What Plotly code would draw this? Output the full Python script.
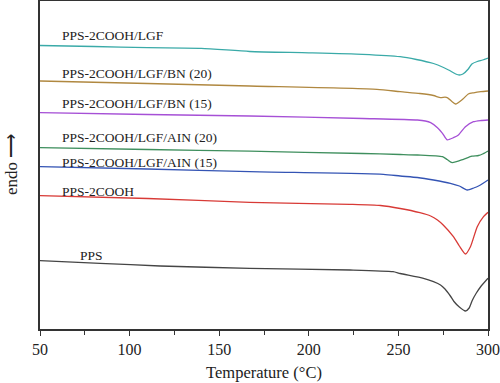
import plotly.graph_objects as go

# Temperature (°C) and heat flow (arbitrary units, endo up)
T_lgf = [50, 80, 110, 140, 167, 200, 230, 251, 260, 269.6, 272, 278, 282, 284, 286, 289, 291, 294, 297, 300]
H_lgf = [-45.5, -46.5, -47.7, -48.3, -51.5, -52.8, -54.3, -56.7, -59.5, -63.5, -65, -70, -74, -75, -74, -69, -64, -61.5, -60, -58]

T_bn20 = [50, 110, 167, 238, 251, 262, 269.6, 273.5, 276, 277.5, 281.8, 286.3, 289, 292, 296, 300]
H_bn20 = [-81, -83.5, -86, -89.3, -91.7, -93.5, -95.5, -97.7, -97.2, -97.8, -104, -98.5, -94, -92.8, -91.7, -91]

T_bn15 = [50, 110, 167, 230, 260.6, 265, 268, 271.8, 274.6, 277.2, 280.7, 283.5, 287.4, 291.9, 296, 300]
H_bn15 = [-112.7, -114.5, -116, -118.5, -120, -121, -122.7, -127.7, -133.3, -139.8, -137.7, -135, -126.7, -121.7, -120.5, -120]

T_aln20 = [50, 110, 167, 230, 251, 260.6, 274.6, 277.2, 280, 286.3, 291, 294.7, 297, 300]
H_aln20 = [-147.7, -149.5, -151.2, -153.5, -154.5, -155, -156.7, -159.5, -162.7, -159.3, -156.2, -155.5, -154, -151]

T_aln15 = [50, 110, 167, 241.6, 251, 260.6, 269.6, 279, 284, 288.4, 292, 294.7, 297.5, 300]
H_aln15 = [-166.7, -169, -171.7, -174.3, -176, -177.5, -180, -183.3, -186, -190, -188, -186, -183, -180]

T_cooh = [50, 110, 167, 223, 240, 251, 262, 268, 271.8, 275, 280.7, 284, 287.4, 290.2, 294, 297.5, 300]
H_cooh = [-195.7, -198.5, -202.3, -204.3, -205.5, -208.5, -212.7, -216, -220, -225, -236.7, -246, -254, -246.7, -226.7, -216.7, -212.3]

T_pps = [50, 83.5, 117, 167, 223, 247, 251, 264, 269.6, 273.5, 276, 279, 281, 284, 287.4, 289.5, 291.2, 293.5, 295.8, 300]
H_pps = [-260.7, -263.3, -266, -268.3, -270, -271.7, -273.5, -278.3, -281.7, -285, -289, -296, -301.5, -307, -311, -308, -300.5, -293, -287, -278.3]

names = ["PPS-2COOH/LGF", "PPS-2COOH/LGF/BN (20)", "PPS-2COOH/LGF/BN (15)",
         "PPS-2COOH/LGF/AIN (20)", "PPS-2COOH/LGF/AIN (15)", "PPS-2COOH", "PPS"]
temps = [T_lgf, T_bn20, T_bn15, T_aln20, T_aln15, T_cooh, T_pps]
flows = [H_lgf, H_bn20, H_bn15, H_aln20, H_aln15, H_cooh, H_pps]
colors = ["#3aaaa8", "#b08840", "#a650d6", "#3f8f5e", "#3454b4", "#d83a36", "#454545"]

# label anchor positions (temperature, heat flow)
label_x = [61, 61, 61, 61, 61, 61, 71]
label_y = [-35, -73.3, -103.3, -137.3, -162.7, -191, -255]

tick_vals = [50, 100, 150, 200, 250, 300]

fig = go.Figure()
for t, h, c, n in zip(temps, flows, colors, names):
    fig.add_trace(go.Scatter(x=t, y=h, mode="lines", name=n,
                             line=dict(color=c, width=1.3, shape="spline", smoothing=0.6),
                             showlegend=False, hoverinfo="skip"))

for n, lx, ly in zip(names, label_x, label_y):
    fig.add_annotation(x=lx, y=ly, text=n, showarrow=False, xanchor="left", yanchor="middle",
                       font=dict(family="Liberation Serif", size=13.5, color="#222"))

fig.add_annotation(xref="paper", yref="paper", x=0, y=0.5, xshift=-29, text="endo ⟶",
                   textangle=-90, showarrow=False, xanchor="center", yanchor="middle",
                   font=dict(family="Liberation Serif", size=17, color="#222"))

fig.update_layout(
    width=500, height=383,
    margin=dict(l=40, r=12, t=1, b=54, autoexpand=False),
    paper_bgcolor="white", plot_bgcolor="white",
    font=dict(family="Liberation Serif", color="#222"),
    xaxis=dict(range=[50, 300], tickvals=tick_vals, ticktext=[str(v) for v in tick_vals],
               ticks="outside", ticklen=5, tickwidth=1, tickcolor="#333",
               minor=dict(ticks="outside", ticklen=4, dtick=25, tick0=50, tickcolor="#333"),
               showline=True, linecolor="#333", linewidth=1.5, mirror=True,
               showgrid=False, zeroline=False, automargin=False,
               tickfont=dict(family="Liberation Serif", size=16, color="#222"),
               title=dict(text="Temperature (°C)", standoff=9,
                          font=dict(family="Liberation Serif", size=16.5, color="#222"))),
    yaxis=dict(range=[-329, -1], showticklabels=False, ticks="",
               showline=True, linecolor="#333", linewidth=1.5, mirror=True,
               showgrid=False, zeroline=False, automargin=False),
)

fig.write_html("out.html", config={"displayModeBar": False},
               post_script="document.body.style.margin='0px';")
